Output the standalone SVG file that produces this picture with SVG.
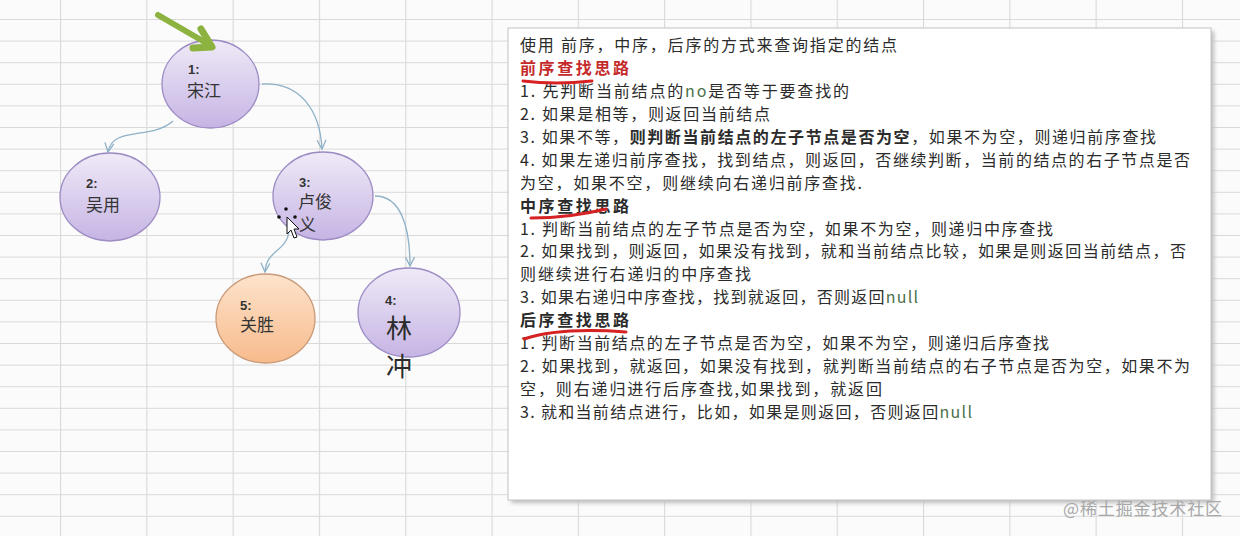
<svg xmlns="http://www.w3.org/2000/svg" width="1240" height="536" viewBox="0 0 1240 536">
<style>
  .cn { font-family: "Noto Sans CJK SC", "Noto Sans", sans-serif; fill: #2b2b2b; }
  .txt { font-size: 16px; }
  .num { font-family: "Liberation Sans", "Noto Sans CJK SC", sans-serif; font-size: 13px; font-weight: bold; fill: #333; }
  .lbl { font-size: 17px; fill: #333; }
  .b { font-weight: bold; }
  .green { fill: #4a6f4a; }
  .edge { fill: none; stroke: #8eb1c7; stroke-width: 1.3; marker-end: url(#ah); }
  .ul { fill: none; stroke: #d62222; stroke-width: 3; stroke-linecap: round; }
  .nodeP { fill: url(#gp); stroke: #9d8cc4; stroke-width: 1.3; }
  .nodeO { fill: url(#go); stroke: #c99a7a; stroke-width: 1.3; }
</style>
<defs>
  <pattern id="grid" patternUnits="userSpaceOnUse" x="60" y="19" width="86.3" height="21.6">
    <rect width="86.3" height="21.6" fill="#fbfbfb"/>
    <path d="M0,0.5 H86.3 M0.5,0 V21.6" stroke="#d9d9d9" stroke-width="1.2" fill="none"/>
  </pattern>
  <linearGradient id="gp" x1="0" y1="0" x2="0" y2="1">
    <stop offset="0" stop-color="#efeaf7"/>
    <stop offset="1" stop-color="#c6b4e4"/>
  </linearGradient>
  <linearGradient id="go" x1="0" y1="0" x2="0" y2="1">
    <stop offset="0" stop-color="#fde3cb"/>
    <stop offset="1" stop-color="#f7bb8c"/>
  </linearGradient>
  <marker id="ah" markerUnits="userSpaceOnUse" markerWidth="14" markerHeight="14" refX="10" refY="5" orient="auto" viewBox="0 0 14 14">
    <path d="M1,0.5 L10,5 L1,9.5" fill="none" stroke="#8eb1c7" stroke-width="1.3"/>
  </marker>
  <filter id="sh" x="-5%" y="-5%" width="110%" height="110%">
    <feGaussianBlur stdDeviation="2"/>
  </filter>
</defs>

<rect width="1240" height="536" fill="url(#grid)"/>

<g id="connectors">
  <path class="edge" d="M173,121 C152,140 112,126 108,152"/>
  <path class="edge" d="M262,84 C300,82 320,110 322,149"/>
  <path class="edge" d="M289,232 C286,252 266,250 265,272"/>
  <path class="edge" d="M375,196 C400,196 410,225 410,266"/>
</g>

<g id="node1">
  <ellipse class="nodeP" cx="210.5" cy="84" rx="48.5" ry="44"/>
  <text class="num" x="188" y="74">1:</text>
  <text class="cn lbl" x="187" y="97">宋江</text>
</g>
<g id="node2">
  <ellipse class="nodeP" cx="110" cy="197" rx="50" ry="44"/>
  <text class="num" x="86" y="188">2:</text>
  <text class="cn lbl" x="86" y="211">吴用</text>
</g>
<g id="node3">
  <ellipse class="nodeP" cx="323" cy="196" rx="50" ry="44"/>
  <text class="num" x="299" y="187">3:</text>
  <text class="cn lbl" x="298" y="208">卢俊</text>
  <text class="cn lbl" x="299" y="231">义</text>
</g>
<g id="node5">
  <ellipse class="nodeO" cx="265.5" cy="318.5" rx="49.5" ry="44.5"/>
  <text class="num" x="240" y="310">5:</text>
  <text class="cn lbl" x="240" y="331">关胜</text>
</g>
<g id="node4">
  <ellipse class="nodeP" cx="409" cy="312.5" rx="51" ry="44.5"/>
  <text class="num" x="385" y="305">4:</text>
  <text class="cn" x="386" y="338" font-size="26">林</text>
  <text class="cn" x="386" y="376" font-size="26">冲</text>
</g>

<!-- green pointer arrow -->
<g id="pointer">
  <line x1="158" y1="15" x2="208" y2="44" stroke="#8cb33f" stroke-width="6" stroke-linecap="round"/>
  <polyline points="201,29 212,47 193,48" fill="none" stroke="#8cb33f" stroke-width="7" stroke-linejoin="round" stroke-linecap="round"/>
</g>

<!-- mouse cursor -->
<g id="cursor">
  <circle cx="286" cy="209" r="1.8" fill="#111"/>
  <circle cx="279" cy="217" r="1.8" fill="#111"/>
  <circle cx="295" cy="217" r="1.8" fill="#111"/>
  <path d="M287,217 L287,234 L291,230 L294,238 L297,237 L294,229 L299,229 Z" fill="#fff" stroke="#111" stroke-width="1"/>
</g>

<!-- text box -->
<g id="notes">
  <rect x="511" y="31" width="703" height="472" fill="#bdbdbd" filter="url(#sh)"/>
  <rect x="508" y="28" width="703" height="472" fill="#fff" stroke="#c4c4c4" stroke-width="1"/>
  <text class="cn txt" x="520" y="51" textLength="377" lengthAdjust="spacing">使用 前序，中序，后序的方式来查询指定的结点</text>
  <text class="cn txt b" x="520" y="74" textLength="109" lengthAdjust="spacing" style="fill:#c42a2a">前序查找思路</text>
  <text class="cn txt" x="520" y="97" textLength="329" lengthAdjust="spacing">1.  先判断当前结点的<tspan class="green">no</tspan>是否等于要查找的</text>
  <text class="cn txt" x="520" y="120" textLength="250" lengthAdjust="spacing">2. 如果是相等，则返回当前结点</text>
  <text class="cn txt" x="520" y="143" textLength="636" lengthAdjust="spacing">3. 如果不等，<tspan class="b">则判断当前结点的左子节点是否为空</tspan>，如果不为空，则递归前序查找</text>
  <text class="cn txt" x="520" y="166" textLength="670" lengthAdjust="spacing">4. 如果左递归前序查找，找到结点，则返回，否继续判断，当前的结点的右子节点是否</text>
  <text class="cn txt" x="520" y="189" textLength="342" lengthAdjust="spacing">为空，如果不空，则继续向右递归前序查找.</text>
  <text class="cn txt b" x="520" y="212" textLength="109" lengthAdjust="spacing">中序查找思路</text>
  <text class="cn txt" x="520" y="235" textLength="533" lengthAdjust="spacing">1.  判断当前结点的左子节点是否为空，如果不为空，则递归中序查找</text>
  <text class="cn txt" x="520" y="257" textLength="666" lengthAdjust="spacing">2. 如果找到，则返回，如果没有找到，就和当前结点比较，如果是则返回当前结点，否</text>
  <text class="cn txt" x="520" y="280" textLength="231" lengthAdjust="spacing">则继续进行右递归的中序查找</text>
  <text class="cn txt" x="520" y="303" textLength="398" lengthAdjust="spacing">3. 如果右递归中序查找，找到就返回，否则返回<tspan class="green">null</tspan></text>
  <text class="cn txt b" x="520" y="326" textLength="109" lengthAdjust="spacing">后序查找思路</text>
  <text class="cn txt" x="520" y="349" textLength="529" lengthAdjust="spacing">1. 判断当前结点的左子节点是否为空，如果不为空，则递归后序查找</text>
  <text class="cn txt" x="520" y="372" textLength="670" lengthAdjust="spacing">2. 如果找到，就返回，如果没有找到，就判断当前结点的右子节点是否为空，如果不为</text>
  <text class="cn txt" x="520" y="395" textLength="362" lengthAdjust="spacing">空，则右递归进行后序查找,如果找到，就返回</text>
  <text class="cn txt" x="520" y="418" textLength="452" lengthAdjust="spacing">3. 就和当前结点进行，比如，如果是则返回，否则返回<tspan class="green">null</tspan></text>
  <path class="ul" d="M523,81 Q555,85 592,81"/>
  <path class="ul" d="M531,218 Q570,218 606,209"/>
  <path class="ul" d="M524,339 Q560,327 626,332"/>
</g>

<text id="watermark" x="1063" y="515" font-family="Noto Sans CJK SC, sans-serif" font-size="17" fill="#a8a8a8" textLength="159" lengthAdjust="spacing">@稀土掘金技术社区</text>
</svg>
